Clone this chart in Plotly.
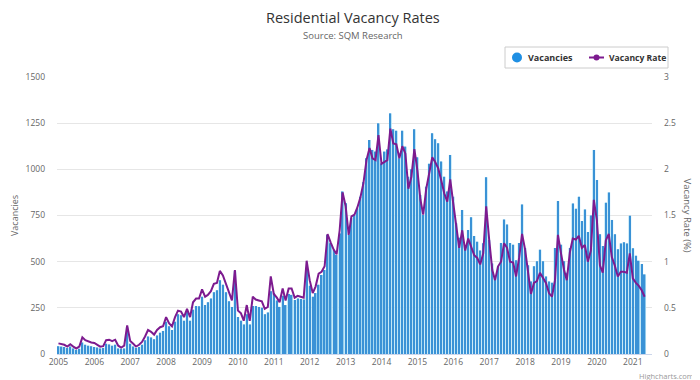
import pandas as pd
import plotly.graph_objects as go

# Monthly vacancies (count)
vac_2005 = [42, 40, 38, 32, 40, 30, 22, 28, 62, 50, 45, 42]
vac_2006 = [38, 35, 30, 32, 55, 52, 45, 50, 30, 28, 30, 145]
vac_2007 = [55, 40, 32, 38, 50, 75, 95, 90, 80, 100, 115, 125]
vac_2008 = [175, 150, 130, 175, 215, 210, 180, 230, 180, 240, 260, 258]
vac_2009 = [310, 265, 280, 300, 335, 345, 400, 375, 335, 285, 255, 450]
vac_2010 = [200, 180, 160, 215, 160, 260, 260, 255, 250, 215, 225, 340]
vac_2011 = [330, 290, 255, 315, 265, 325, 320, 292, 300, 298, 295, 470]
vac_2012 = [370, 310, 330, 375, 428, 455, 645, 600, 563, 536, 653, 880]
vac_2013 = [816, 645, 735, 753, 789, 852, 930, 1060, 1159, 1105, 1096, 1249]
vac_2014 = [1032, 1096, 1108, 1303, 1217, 1209, 1060, 1209, 1123, 960, 1000, 1217]
vac_2015 = [1065, 861, 753, 906, 1030, 1195, 1163, 1141, 1042, 960, 880, 1078]
vac_2016 = [852, 708, 630, 780, 585, 671, 740, 639, 608, 560, 600, 957]
vac_2017 = [617, 490, 420, 475, 601, 728, 701, 601, 592, 507, 601, 810]
vac_2018 = [574, 480, 393, 475, 502, 565, 502, 420, 393, 386, 574, 828]
vac_2019 = [592, 502, 440, 574, 815, 786, 851, 720, 783, 660, 750, 1105]
vac_2020 = [942, 648, 585, 819, 875, 726, 648, 567, 599, 605, 599, 749]
vac_2021 = [572, 532, 505, 487, 431]

# Monthly vacancy rate (%)
rate_2005 = [0.115, 0.11, 0.10, 0.08, 0.105, 0.08, 0.06, 0.08, 0.18, 0.15, 0.135, 0.125]
rate_2006 = [0.12, 0.10, 0.08, 0.085, 0.15, 0.155, 0.14, 0.155, 0.09, 0.07, 0.09, 0.31]
rate_2007 = [0.14, 0.11, 0.08, 0.10, 0.13, 0.19, 0.26, 0.24, 0.21, 0.26, 0.29, 0.30]
rate_2008 = [0.40, 0.33, 0.30, 0.40, 0.47, 0.46, 0.40, 0.49, 0.40, 0.56, 0.60, 0.60]
rate_2009 = [0.70, 0.62, 0.64, 0.68, 0.76, 0.77, 0.90, 0.85, 0.76, 0.67, 0.58, 0.91]
rate_2010 = [0.47, 0.44, 0.36, 0.53, 0.36, 0.62, 0.59, 0.58, 0.57, 0.49, 0.51, 0.84]
rate_2011 = [0.65, 0.61, 0.56, 0.71, 0.58, 0.71, 0.71, 0.61, 0.63, 0.62, 0.61, 1.01]
rate_2012 = [0.80, 0.66, 0.73, 0.87, 0.89, 0.95, 1.30, 1.21, 1.13, 1.08, 1.34, 1.75]
rate_2013 = [1.60, 1.29, 1.49, 1.51, 1.59, 1.70, 1.85, 2.10, 2.23, 2.12, 2.10, 2.37]
rate_2014 = [2.06, 2.08, 2.10, 2.44, 2.28, 2.27, 2.12, 2.25, 2.17, 1.79, 1.92, 2.22]
rate_2015 = [1.99, 1.67, 1.51, 1.79, 1.95, 2.13, 2.08, 2.01, 1.88, 1.74, 1.65, 1.89]
rate_2016 = [1.63, 1.40, 1.15, 1.34, 1.12, 1.25, 1.16, 1.07, 1.04, 0.97, 1.09, 1.60]
rate_2017 = [1.23, 0.91, 0.80, 0.95, 1.00, 1.20, 1.15, 1.00, 0.99, 0.84, 1.04, 1.30]
rate_2018 = [1.13, 0.86, 0.65, 0.77, 0.79, 0.88, 0.82, 0.77, 0.66, 0.62, 0.80, 1.29]
rate_2019 = [1.09, 0.91, 0.80, 1.10, 1.25, 1.24, 1.28, 1.15, 1.18, 1.00, 1.12, 1.67]
rate_2020 = [1.45, 0.96, 0.88, 1.23, 1.30, 1.05, 0.96, 0.84, 0.89, 0.89, 0.88, 1.09]
rate_2021 = [0.82, 0.77, 0.74, 0.69, 0.62]

vacancies = (vac_2005 + vac_2006 + vac_2007 + vac_2008 + vac_2009 + vac_2010 +
             vac_2011 + vac_2012 + vac_2013 + vac_2014 + vac_2015 + vac_2016 +
             vac_2017 + vac_2018 + vac_2019 + vac_2020 + vac_2021)
rates = (rate_2005 + rate_2006 + rate_2007 + rate_2008 + rate_2009 + rate_2010 +
         rate_2011 + rate_2012 + rate_2013 + rate_2014 + rate_2015 + rate_2016 +
         rate_2017 + rate_2018 + rate_2019 + rate_2020 + rate_2021)
months = pd.date_range("2005-01-01", periods=len(vacancies), freq="MS")

year_ticks = [f"{y}-01-01" for y in range(2005, 2022)]
year_labels = [str(y) for y in range(2005, 2022)]
left_ticks = [0, 250, 500, 750, 1000, 1250, 1500]
right_ticks = [0, 0.5, 1, 1.5, 2, 2.5, 3]

FONT = "Open Sans"
BLUE = "#3a92d6"
PALE = "#b4e2f5"
PURPLE = "#7d1b8f"
DAY_MS = 86400000

fig = go.Figure()
# column body (pale) and its darker stripe
fig.add_trace(go.Bar(
    x=months, y=vacancies, name="Vacancies", showlegend=False,
    width=[29 * DAY_MS] * len(vacancies),
    marker=dict(color=PALE, line=dict(width=0)), yaxis="y", hoverinfo="skip",
))
fig.add_trace(go.Bar(
    x=months, y=vacancies, name="Vacancies", showlegend=False,
    width=[13 * DAY_MS] * len(vacancies),
    marker=dict(color=BLUE, line=dict(width=0)), yaxis="y",
))
fig.add_trace(go.Scatter(
    x=months, y=rates, name="Vacancy Rate", mode="lines", showlegend=False,
    line=dict(color=PURPLE, width=2), yaxis="y2",
))

# plot area in window pixels: x 57..652, y 77..354
def px(X):
    return (X - 57) / 595.0

def py(Y):
    return (354 - Y) / 277.0

shapes = [
    dict(type="rect", xref="paper", yref="paper",
         x0=px(505), x1=px(668), y0=py(68), y1=py(47),
         line=dict(color="#cccccc", width=1), fillcolor="white", layer="above"),
    dict(type="circle", xref="paper", yref="paper",
         x0=px(512), x1=px(522), y0=py(62.5), y1=py(52.5),
         line=dict(width=0), fillcolor="#1f8fe3", layer="above"),
    dict(type="line", xref="paper", yref="paper",
         x0=px(589), x1=px(604), y0=py(57.5), y1=py(57.5),
         line=dict(color=PURPLE, width=2), layer="above"),
    dict(type="circle", xref="paper", yref="paper",
         x0=px(593.5), x1=px(599.5), y0=py(60.5), y1=py(54.5),
         line=dict(width=0), fillcolor=PURPLE, layer="above"),
]

# The page body has an 8px offset, so the figure is sized 8px smaller.
fig.update_layout(
    width=692, height=372,
    margin=dict(l=49, r=48, t=69, b=26, autoexpand=False),
    paper_bgcolor="white", plot_bgcolor="white",
    font=dict(family=FONT, size=9, color="#666666"),
    barmode="overlay",
    showlegend=False,
    shapes=shapes,
    xaxis=dict(
        type="date", range=["2004-12-17", "2021-07-15"],
        tickvals=year_ticks, ticktext=year_labels,
        showgrid=False, showline=True, linecolor="#ccd6eb", linewidth=1,
        ticks="", tickfont=dict(size=8.5, color="#666666"),
        zeroline=False,
    ),
    yaxis=dict(
        range=[0, 1500], tickvals=left_ticks,
        showgrid=True, gridcolor="#e6e6e6", gridwidth=1,
        zeroline=False, ticks="", ticklabelstandoff=11,
        tickfont=dict(size=8.5, color="#666666"),
    ),
    yaxis2=dict(
        range=[0, 3], tickvals=right_ticks, overlaying="y", side="right",
        showgrid=False, zeroline=False, ticks="", ticklabelstandoff=11,
        tickfont=dict(size=8.5, color="#666666"),
    ),
    annotations=[
        dict(text="Residential Vacancy Rates", xref="paper", yref="paper",
             x=0.4975, y=py(17), xanchor="center", yanchor="middle", showarrow=False,
             font=dict(family=FONT, size=14.5, color="#333333")),
        dict(text="Source: SQM Research", xref="paper", yref="paper",
             x=0.4975, y=py(35), xanchor="center", yanchor="middle", showarrow=False,
             font=dict(family=FONT, size=9.5, color="#666666")),
        dict(text="<b>Vacancies</b>", xref="paper", yref="paper",
             x=px(526), y=py(57.5), xanchor="left", yanchor="middle", showarrow=False,
             font=dict(family=FONT, size=9, color="#333333")),
        dict(text="<b>Vacancy Rate</b>", xref="paper", yref="paper",
             x=px(607), y=py(57.5), xanchor="left", yanchor="middle", showarrow=False,
             font=dict(family=FONT, size=8.6, color="#333333")),
        dict(text="Vacancies", xref="paper", yref="paper", x=px(14.5), y=0.5,
             xanchor="center", yanchor="middle", textangle=-90, showarrow=False,
             font=dict(family=FONT, size=9, color="#666666")),
        dict(text="Vacancy Rate (%)", xref="paper", yref="paper", x=px(687), y=0.5,
             xanchor="center", yanchor="middle", textangle=90, showarrow=False,
             font=dict(family=FONT, size=9.5, color="#666666")),
        dict(text="Highcharts.com", xref="paper", yref="paper", x=px(696), y=py(376),
             xanchor="right", yanchor="middle", showarrow=False,
             font=dict(family=FONT, size=7.5, color="#999999")),
    ],
)

fig.write_html("out.html")
